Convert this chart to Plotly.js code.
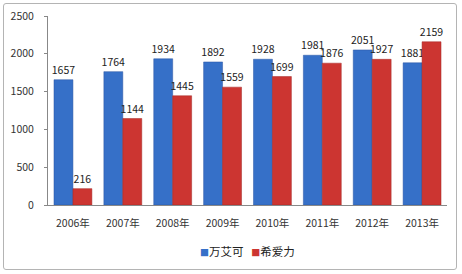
<!DOCTYPE html>
<html><head><meta charset="utf-8">
<script src="https://cdn.plot.ly/plotly-3.0.1.min.js"></script>
<style>
html,body{margin:0;padding:0;background:#fff;}
#wrap{position:relative;width:462px;height:274px;}
#frame{position:absolute;left:3px;top:3px;width:452px;height:265px;border:1px solid #b4b4b4;border-radius:3px;pointer-events:none;}
#chart{position:absolute;left:0;top:0;width:462px;height:274px;}
</style></head>
<body><div id="wrap"><div id="chart"></div><div id="frame"></div></div>
<script>
const categories = ["2006年","2007年","2008年","2009年","2010年","2011年","2012年","2013年"];
const viagra = [1657,1764,1934,1892,1928,1981,2051,1881];
const cialis = [216,1144,1445,1559,1699,1876,1927,2159];
const seriesNames = ["万艾可","希爱力"];
const seriesColors = ['#3670c8','#cc3531'];
const yTicks = [0,500,1000,1500,2000,2500];

const font = "'Noto Sans CJK SC', 'DejaVu Sans', sans-serif";
const traces = [viagra, cialis].map((vals,i) => ({
  type:'bar', name:seriesNames[i], x:categories, y:vals, text:vals.map(String),
  textposition:'outside', cliponaxis:false, constraintext:'none',
  textfont:{size:10.5, color:'#222', family:font},
  marker:{color:seriesColors[i], line:{color:i? '#a42826':'#2a55a3', width:0.5}}
}));
const legendText = seriesNames.map((n,i)=>
  `<span style="color:${seriesColors[i]};font-size:9px">■</span>${n}`).join('   ');
const layout = {
  width:462, height:274,
  margin:{l:48, r:15, t:16, b:69},
  paper_bgcolor:'rgba(0,0,0,0)', plot_bgcolor:'rgba(0,0,0,0)',
  barmode:'group', bargap:0.24, bargroupgap:0,
  font:{family:font, size:10, color:'#333'},
  showlegend:false,
  annotations:[{xref:'paper', yref:'paper', x:0.5, y:-0.245, xanchor:'center', yanchor:'middle',
    showarrow:false, text:legendText, font:{size:11.5, color:'#222', family:font}}],
  xaxis:{type:'category', showline:true, linecolor:'#888', linewidth:1,
         ticks:'', tickfont:{size:10.5, color:'#333', family:font}, showgrid:false, ticklabelstandoff:8},
  yaxis:{range:[0,2500], tickvals:yTicks, showline:true, linecolor:'#888', linewidth:1,
         ticks:'outside', ticklen:3, tickcolor:'#888', showgrid:false, zeroline:false,
         tickfont:{size:10.5, color:'#333', family:font}, ticklabelstandoff:8}
};
Plotly.newPlot('chart', traces, layout, {displayModeBar:false, staticPlot:true});
</script></body></html>
